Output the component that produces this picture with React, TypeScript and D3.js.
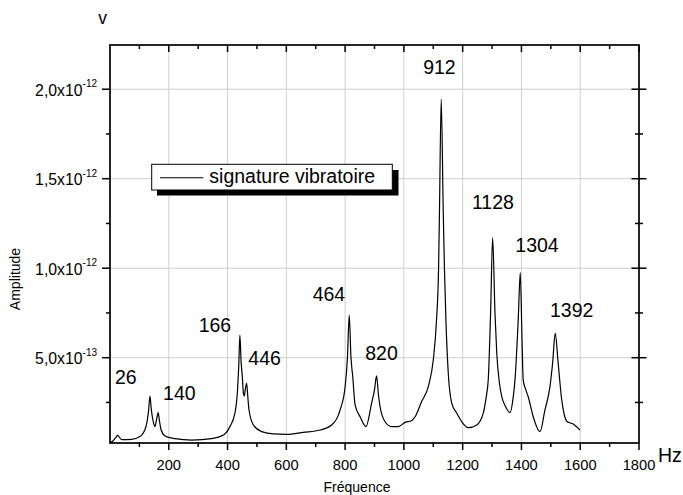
import React from "react";
import * as d3 from "d3";

// Frequency (Hz) and amplitude (in units of 1e-12) of the vibration signature
const frequency = [
  0, 10, 20, 26, 32, 40, 74, 100, 108, 118, 125, 131, 136, 140, 144, 150, 153, 158, 164, 168, 174, 187,
  221, 278, 346, 386, 408, 425, 434, 438, 442, 446, 450, 454, 457, 461, 465, 469, 473, 488, 516, 556,
  601, 658, 715, 754, 783, 800, 808, 814, 820, 826, 834, 851, 871, 890, 900, 907, 913, 919, 936, 958,
  981, 1004, 1026, 1038, 1060, 1083, 1100, 1111, 1118, 1121, 1127, 1134, 1138, 1143, 1151, 1163, 1180,
  1197, 1219, 1248, 1270, 1280, 1287, 1295, 1302, 1310, 1316, 1325, 1333, 1345, 1361, 1372, 1378, 1389,
  1396, 1402, 1406, 1415, 1423, 1440, 1463, 1480, 1497, 1506, 1515, 1525, 1537, 1546, 1556, 1576, 1599,
];
const amplitude = [
  0.025, 0.035, 0.055, 0.066, 0.055, 0.042, 0.044, 0.058, 0.068, 0.095, 0.133, 0.2, 0.286, 0.22, 0.17,
  0.125, 0.115, 0.15, 0.193, 0.15, 0.096, 0.063, 0.048, 0.04, 0.048, 0.068, 0.115, 0.19, 0.32, 0.45,
  0.627, 0.48, 0.4, 0.3, 0.286, 0.33, 0.357, 0.28, 0.208, 0.124, 0.087, 0.074, 0.072, 0.083, 0.096,
  0.124, 0.208, 0.338, 0.5, 0.738, 0.5, 0.394, 0.236, 0.17, 0.115, 0.245, 0.32, 0.398, 0.3, 0.226,
  0.142, 0.115, 0.115, 0.139, 0.148, 0.17, 0.254, 0.338, 0.487, 0.71, 1.0, 1.307, 1.944, 1.307, 1.0,
  0.71, 0.413, 0.245, 0.19, 0.142, 0.109, 0.124, 0.19, 0.28, 0.375, 0.748, 1.17, 0.748, 0.525, 0.36,
  0.282, 0.23, 0.193, 0.28, 0.375, 0.71, 0.975, 0.6, 0.375, 0.32, 0.282, 0.17, 0.087, 0.208, 0.338,
  0.469, 0.636, 0.469, 0.264, 0.18, 0.142, 0.13, 0.096,
];

// Peak annotations (text, anchor frequency, anchor amplitude)
const peakLabels = ["26", "140", "166", "446", "464", "820", "912", "1128", "1304", "1392"];
const peakLabelHz = [54, 236, 357, 526, 745, 924, 1121, 1303, 1453, 1571];
const peakLabelAmp = [0.353, 0.261, 0.646, 0.459, 0.817, 0.487, 2.085, 1.331, 1.089, 0.729];

const xMajorTicks = [200, 400, 600, 800, 1000, 1200, 1400, 1600, 1800];
const xMinorTicks = [100, 300, 500, 700, 900, 1100, 1300, 1500, 1700];
const xGrid = [200, 400, 600, 800, 1000, 1200, 1400, 1600];
const yMajorTicks = [0.5, 1.0, 1.5, 2.0];
const yMinorTicks = [0.25, 0.75, 1.25, 1.75];
const yTickMantissa = ["5,0x10", "1,0x10", "1,5x10", "2,0x10"];
const yTickExponent = ["-13", "-12", "-12", "-12"];

const legendLabel = "signature vibratoire";
const xTitle = "Fréquence";
const yTitle = "Amplitude";
const xUnit = "Hz";
const yUnit = "v";

const FONT = "'Liberation Sans', Arial, Helvetica, sans-serif";

export default function App() {
  const W = 683;
  const H = 495;
  const left = 110, right = 639, top = 45, bottom = 443;

  const x = d3.scaleLinear().domain([0, 1800]).range([left, right]);
  const y = d3.scaleLinear().domain([0.0235, 2.247]).range([bottom, top]);

  const pts = frequency.map((f, i) => [f, amplitude[i]] as [number, number]);
  const line = d3
    .line<[number, number]>()
    .x((d) => x(d[0]))
    .y((d) => y(d[1]))
    .curve(d3.curveMonotoneX);

  const axisW = 1.7;

  return (
    <svg
      width={W}
      height={H}
      style={{ position: "absolute", left: 0, top: 0, display: "block", background: "#fff" }}
      fontFamily={FONT}
    >
      <rect x={0} y={0} width={W} height={H} fill="#fff" />
      {/* grid */}
      {xGrid.map((v) => (
        <line key={"gx" + v} x1={x(v)} x2={x(v)} y1={top} y2={bottom} stroke="#cfcfcf" strokeWidth={1} />
      ))}
      {yMajorTicks.map((v) => (
        <line key={"gy" + v} x1={left} x2={right} y1={y(v)} y2={y(v)} stroke="#cfcfcf" strokeWidth={1} />
      ))}

      {/* data */}
      <path d={line(pts) || ""} fill="none" stroke="#000" strokeWidth={1.2} />

      {/* frame */}
      <rect x={left} y={top} width={right - left} height={bottom - top} fill="none" stroke="#000" strokeWidth={axisW} />

      {/* bottom ticks (outward) */}
      {xMajorTicks.map((v) => (
        <line key={"bx" + v} x1={x(v)} x2={x(v)} y1={bottom} y2={bottom + 7} stroke="#000" strokeWidth={1.5} />
      ))}
      {xMinorTicks.map((v) => (
        <line key={"bm" + v} x1={x(v)} x2={x(v)} y1={bottom} y2={bottom + 4} stroke="#000" strokeWidth={1.5} />
      ))}
      {/* top ticks (inward) */}
      {xMajorTicks.map((v) => (
        <line key={"tx" + v} x1={x(v)} x2={x(v)} y1={top} y2={top + 7} stroke="#000" strokeWidth={1.5} />
      ))}
      {xMinorTicks.map((v) => (
        <line key={"tm" + v} x1={x(v)} x2={x(v)} y1={top} y2={top + 4} stroke="#000" strokeWidth={1.5} />
      ))}
      {/* left ticks (outward) */}
      {yMajorTicks.map((v) => (
        <line key={"ly" + v} x1={left - 8} x2={left} y1={y(v)} y2={y(v)} stroke="#000" strokeWidth={1.5} />
      ))}
      {yMinorTicks.map((v) => (
        <line key={"lm" + v} x1={left - 4} x2={left} y1={y(v)} y2={y(v)} stroke="#000" strokeWidth={1.5} />
      ))}
      {/* right ticks (crossing) */}
      {yMajorTicks.map((v) => (
        <line key={"ry" + v} x1={right - 7.5} x2={right + 7.5} y1={y(v)} y2={y(v)} stroke="#000" strokeWidth={1.5} />
      ))}
      {yMinorTicks.map((v) => (
        <line key={"rm" + v} x1={right - 4} x2={right + 4} y1={y(v)} y2={y(v)} stroke="#000" strokeWidth={1.5} />
      ))}

      {/* x tick labels */}
      {xMajorTicks.map((v) => (
        <text key={"xl" + v} x={x(v)} y={470} textAnchor="middle" fontSize={14.7} fill="#000">
          {v}
        </text>
      ))}
      {/* y tick labels */}
      {yMajorTicks.map((v, i) => (
        <text key={"yl" + v} x={97} y={y(v) + 6.5} textAnchor="end" fontSize={15.8} fill="#000">
          <tspan>{yTickMantissa[i]}</tspan>
          <tspan dy={-8.5} fontSize={10}>
            {yTickExponent[i]}
          </tspan>
        </text>
      ))}

      {/* axis titles */}
      <text x={357} y={492} textAnchor="middle" fontSize={14} fill="#000">
        {xTitle}
      </text>
      <text
        transform={`translate(19.5,279) rotate(-90)`}
        textAnchor="middle"
        fontSize={14}
        fill="#000"
      >
        {yTitle}
      </text>
      <text x={658} y={462} fontSize={19.5} fill="#000">
        {xUnit}
      </text>
      <text x={102.5} y={24} textAnchor="middle" fontSize={17.5} fill="#000">
        {yUnit}
      </text>

      {/* peak labels */}
      {peakLabels.map((t, i) => (
        <text
          key={"pk" + t}
          x={x(peakLabelHz[i])}
          y={y(peakLabelAmp[i])}
          textAnchor="middle"
          fontSize={19.5}
          fill="#000"
        >
          {t}
        </text>
      ))}

      {/* legend */}
      <rect x={157} y={170} width={241.5} height={25.5} fill="#000" />
      <rect x={151.7} y={164.3} width={240.6} height={25.7} fill="#fff" stroke="#000" strokeWidth={1} />
      <line x1={160} x2={203.3} y1={177.7} y2={177.7} stroke="#000" strokeWidth={1.1} />
      <text x={209.3} y={183} fontSize={19.5} fill="#000">
        {legendLabel}
      </text>
    </svg>
  );
}
